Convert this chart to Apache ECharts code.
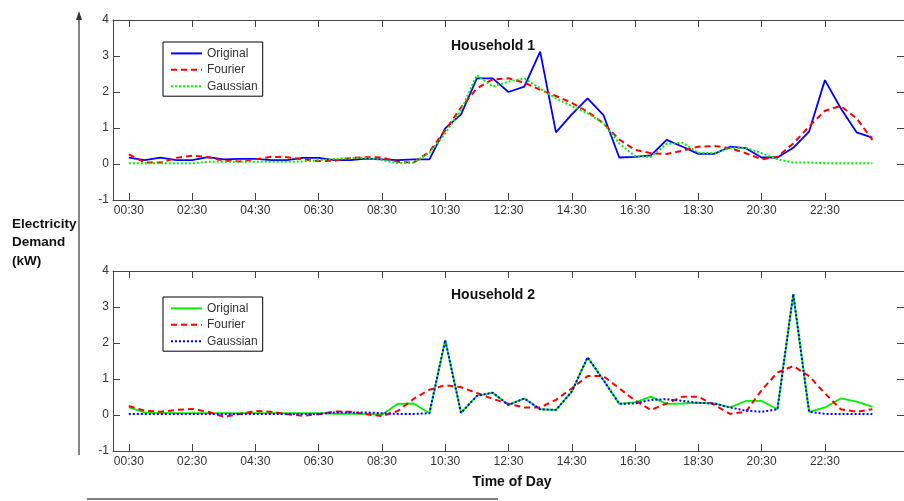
<!DOCTYPE html>
<html>
<head>
<meta charset="utf-8">
<script src="https://cdn.jsdelivr.net/npm/echarts@6.0.0/dist/echarts.min.js"></script>
<style>
html, body { margin: 0; padding: 0; background: #fff; }
#main { width: 904px; height: 501px; }
</style>
</head>
<body>
<div id="main"></div>
<script>
// half-hour slots 1..48 (00:30 .. 24:00), labelled every 2 hours
const tickIdx = [1, 5, 9, 13, 17, 21, 25, 29, 33, 37, 41, 45];
const tickLabels = ['00:30', '02:30', '04:30', '06:30', '08:30', '10:30',
                    '12:30', '14:30', '16:30', '18:30', '20:30', '22:30'];

// Household 1
const h1Original = [0.18, 0.11, 0.18, 0.11, 0.11, 0.19, 0.13, 0.14, 0.14, 0.11, 0.11, 0.17,
                    0.17, 0.11, 0.11, 0.15, 0.13, 0.11, 0.13, 0.13, 0.99, 1.38, 2.38, 2.38,
                    2.0, 2.15, 3.12, 0.88, 1.38, 1.82, 1.36, 0.18, 0.2, 0.24, 0.67, 0.48,
                    0.28, 0.28, 0.48, 0.44, 0.18, 0.18, 0.45, 0.9, 2.33, 1.55, 0.88, 0.73];
const h1Fourier = [0.27, 0.04, 0.04, 0.17, 0.23, 0.19, 0.09, 0.07, 0.13, 0.2, 0.19, 0.13,
                   0.08, 0.09, 0.17, 0.19, 0.18, 0.06, 0.04, 0.34, 0.94, 1.57, 2.1, 2.35,
                   2.38, 2.26, 2.06, 1.89, 1.7, 1.45, 1.13, 0.68, 0.39, 0.3, 0.28, 0.37,
                   0.48, 0.5, 0.44, 0.3, 0.13, 0.2, 0.57, 1.04, 1.48, 1.61, 1.27, 0.67];
const h1Gaussian = [0.02, 0.02, 0.02, 0.02, 0.02, 0.06, 0.06, 0.06, 0.06, 0.06, 0.06, 0.07,
                    0.11, 0.14, 0.17, 0.17, 0.11, 0.02, 0.04, 0.31, 0.85, 1.5, 2.47, 2.15,
                    2.29, 2.38, 2.1, 1.82, 1.61, 1.41, 1.13, 0.57, 0.22, 0.2, 0.56, 0.59,
                    0.31, 0.3, 0.44, 0.45, 0.3, 0.13, 0.04, 0.04, 0.02, 0.02, 0.02, 0.02];

// Household 2
const h2Original = [0.21, 0.07, 0.06, 0.05, 0.05, 0.05, 0.05, 0.05, 0.05, 0.05, 0.05, 0.05,
                    0.05, 0.03, 0.03, 0.03, 0.01, 0.31, 0.32, 0.05, 2.08, 0.06, 0.53, 0.62,
                    0.28, 0.46, 0.16, 0.14, 0.65, 1.6, 0.97, 0.31, 0.35, 0.51, 0.31, 0.32,
                    0.34, 0.32, 0.21, 0.39, 0.39, 0.16, 3.36, 0.09, 0.21, 0.46, 0.37, 0.23];
const h2Fourier = [0.25, 0.12, 0.09, 0.14, 0.17, 0.09, -0.05, 0.03, 0.11, 0.09, 0.02, -0.02,
                   0.02, 0.1, 0.09, 0.02, -0.03, 0.11, 0.45, 0.7, 0.83, 0.77, 0.61, 0.45,
                   0.31, 0.21, 0.21, 0.42, 0.74, 1.08, 1.08, 0.74, 0.4, 0.14, 0.32, 0.51,
                   0.51, 0.28, 0.03, 0.09, 0.69, 1.18, 1.36, 1.08, 0.6, 0.16, 0.09, 0.16];
const h2Gaussian = [0.03, 0.03, 0.03, 0.03, 0.03, 0.03, 0.03, 0.03, 0.03, 0.03, 0.03, 0.03,
                    0.03, 0.07, 0.07, 0.07, 0.05, 0.03, 0.03, 0.05, 2.08, 0.06, 0.53, 0.62,
                    0.28, 0.46, 0.16, 0.14, 0.65, 1.6, 0.97, 0.31, 0.32, 0.42, 0.44, 0.39,
                    0.34, 0.32, 0.21, 0.12, 0.09, 0.16, 3.36, 0.09, 0.03, 0.03, 0.03, 0.03];

const FONT = '"Liberation Sans", Arial, sans-serif';
const AXIS_COLOR = '#444';
const LABEL_COLOR = '#333';

const toXY = arr => arr.map((v, i) => [i + 1, v]);
const stripSuffix = name => name.replace(/ \d$/, '');

const grids = [
    { left: 113, top: 20, width: 797, height: 180 },
    { left: 113, top: 271, width: 797, height: 180 }
];

function xAxes(g) {
    const base = {
        type: 'value', gridIndex: g, min: 0, max: 50,
        axisLine: { onZero: false, lineStyle: { color: AXIS_COLOR, width: 1 } },
        axisTick: { inside: true, length: 7, customValues: tickIdx, lineStyle: { color: AXIS_COLOR } },
        splitLine: { show: false }
    };
    return [
        Object.assign({}, base, {
            position: 'bottom',
            axisLabel: {
                customValues: tickIdx, margin: 5, fontSize: 12, color: LABEL_COLOR, fontFamily: FONT,
                formatter: v => tickLabels[tickIdx.indexOf(v)]
            }
        }),
        Object.assign({}, base, { position: 'top', axisLabel: { show: false } })
    ];
}

function yAxes(g) {
    const base = {
        type: 'value', gridIndex: g, min: -1, max: 4, interval: 1,
        axisLine: { show: true, onZero: false, lineStyle: { color: AXIS_COLOR, width: 1 } },
        axisTick: { show: true, inside: true, length: 7, lineStyle: { color: AXIS_COLOR } },
        splitLine: { show: false }
    };
    return [
        Object.assign({}, base, {
            position: 'left',
            axisLabel: { margin: 4, fontSize: 12, color: LABEL_COLOR, fontFamily: FONT }
        }),
        Object.assign({}, base, { position: 'right', axisLabel: { show: false } })
    ];
}

function line(name, data, g, color, type) {
    return {
        name: name, type: 'line', data: toXY(data),
        xAxisIndex: g * 2, yAxisIndex: g * 2,
        symbol: 'none', animation: false,
        lineStyle: { color: color, width: type === 'solid' ? 1.8 : 2, type: type },
        itemStyle: { color: color }
    };
}

function legend(g, top) {
    return {
        orient: 'vertical', left: 163, top: top,
        data: ['Original ' + g, 'Fourier ' + g, 'Gaussian ' + g],
        formatter: stripSuffix,
        itemWidth: 31, itemHeight: 14, itemGap: 4.4,
        padding: [5.4, 5, 4, 7],
        borderColor: '#000', borderWidth: 1, borderRadius: 0,
        backgroundColor: '#fff',
        selectedMode: false,
        itemStyle: { color: 'rgba(0,0,0,0)', borderWidth: 0, opacity: 0 },
        textStyle: { fontSize: 12, color: LABEL_COLOR, fontFamily: FONT }
    };
}

const GREEN = '#00f000';
const chart = echarts.init(document.getElementById('main'));
chart.setOption({
    animation: false,
    backgroundColor: '#fff',
    grid: grids,
    xAxis: xAxes(0).concat(xAxes(1)),
    yAxis: yAxes(0).concat(yAxes(1)),
    legend: [legend(1, 42), legend(2, 297)],
    series: [
        line('Original 1', h1Original, 0, '#0000ff', 'solid'),
        line('Fourier 1', h1Fourier, 0, '#ff0000', [6, 4]),
        line('Gaussian 1', h1Gaussian, 0, GREEN, [2, 2]),
        line('Original 2', h2Original, 1, GREEN, 'solid'),
        line('Fourier 2', h2Fourier, 1, '#ff0000', [6, 4]),
        line('Gaussian 2', h2Gaussian, 1, '#0000ff', [2, 2])
    ],
    graphic: [
        { type: 'text', x: 493, y: 46, style: { text: 'Household 1', font: 'bold 14px ' + FONT, fill: '#111', align: 'center', verticalAlign: 'middle' } },
        { type: 'text', x: 493, y: 295, style: { text: 'Household 2', font: 'bold 14px ' + FONT, fill: '#111', align: 'center', verticalAlign: 'middle' } },
        { type: 'text', x: 512, y: 482, style: { text: 'Time of Day', font: 'bold 14px ' + FONT, fill: '#111', align: 'center', verticalAlign: 'middle' } },
        { type: 'text', x: 12, y: 242.5, style: { text: 'Electricity\nDemand\n(kW)', font: 'bold 13.5px ' + FONT, lineHeight: 18.7, fill: '#111', align: 'left', verticalAlign: 'middle' } },
        { type: 'line', shape: { x1: 79, y1: 18, x2: 79, y2: 455 }, style: { stroke: '#333', lineWidth: 1.2 } },
        { type: 'polygon', shape: { points: [[79, 11], [76, 20], [82, 20]] }, style: { fill: '#333' } },
        { type: 'line', shape: { x1: 87, y1: 499, x2: 498, y2: 499 }, style: { stroke: '#555', lineWidth: 1.5 } }
    ]
});
</script>
</body>
</html>
